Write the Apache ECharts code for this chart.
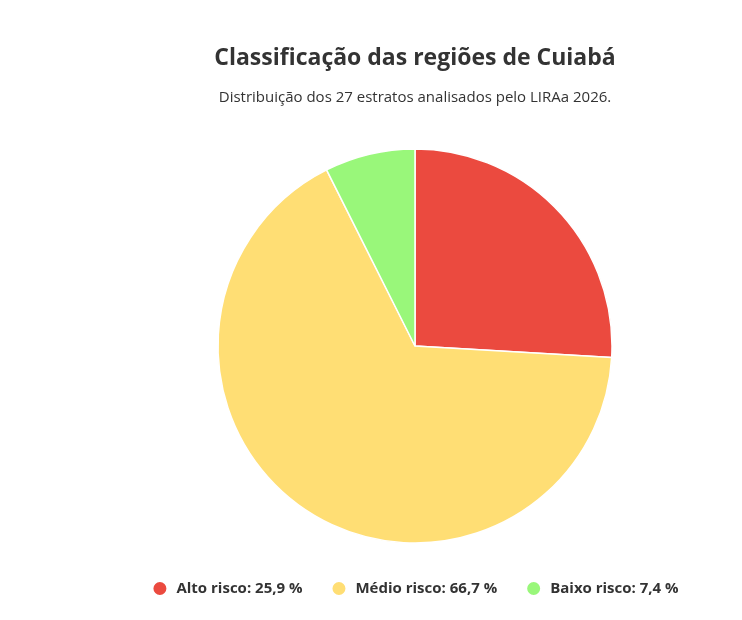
<!DOCTYPE html>
<html><head><meta charset="utf-8">
<script src="https://cdn.jsdelivr.net/npm/echarts@6/dist/echarts.min.js"></script>
<style>html,body{margin:0;padding:0;background:#fff;overflow:hidden}#c{position:absolute;left:88px;top:0;width:654px;height:620px}</style>
</head><body><div id="c"></div>
<script>
const categories = ['Alto risco', 'Médio risco', 'Baixo risco'];
const counts = [7, 18, 2];
const colors = ['#EB4A3F', '#FFDE74', '#99F77A'];
const total = counts.reduce((a, b) => a + b, 0);
const chart = echarts.init(document.getElementById('c'));
chart.setOption({
  animation: false,
  textStyle: { fontFamily: 'Open Sans' },
  title: {
    text: 'Classificação das regiões de Cuiabá',
    subtext: 'Distribuição dos 27 estratos analisados pelo LIRAa 2026.',
    left: 'center', top: 42,
    textStyle: { fontFamily: 'Open Sans', fontWeight: 'bold', fontSize: 23, color: '#333' },
    subtextStyle: { fontFamily: 'Open Sans', fontSize: 15, color: '#333' },
    itemGap: 20
  },
  legend: {
    bottom: 18, left: 'center', icon: 'circle', itemWidth: 15, itemHeight: 15, itemGap: 28,
    textStyle: { fontFamily: 'Open Sans', fontWeight: 'bold', fontSize: 15, color: '#333', padding: [0, 0, 0, 4] },
    formatter: name => {
      const i = categories.indexOf(name);
      return name + ': ' + (counts[i] / total * 100).toFixed(1).replace('.', ',') + ' %';
    }
  },
  series: [{
    type: 'pie', center: [327, 346], radius: 197, startAngle: 90, clockwise: true,
    label: { show: false }, labelLine: { show: false },
    itemStyle: { borderColor: '#fff', borderWidth: 1.5 },
    emphasis: { disabled: true },
    data: categories.map((n, i) => ({ name: n, value: counts[i], itemStyle: { color: colors[i] } }))
  }]
});
</script></body></html>
